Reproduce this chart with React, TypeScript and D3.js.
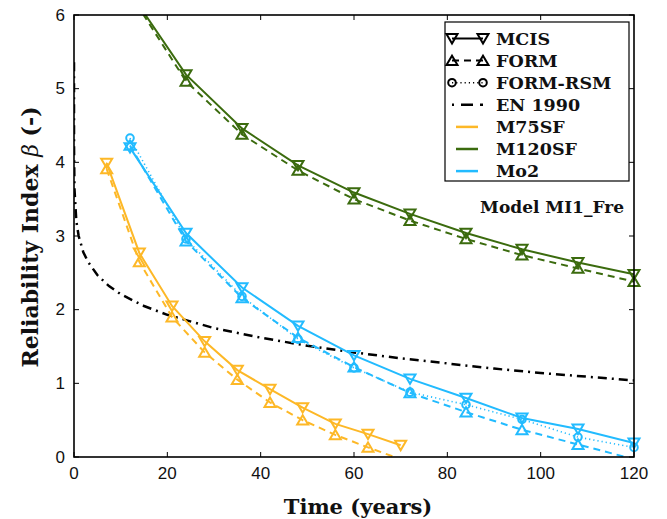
import React from "react";
import * as d3 from "d3";

// ---- data ----
const tM75 = [7, 14, 21, 28, 35, 42, 49, 56, 63, 70];
const m75MCIS = [3.99, 2.77, 2.05, 1.57, 1.18, 0.92, 0.67, 0.45, 0.31, 0.16];
const m75FORM = [3.91, 2.65, 1.9, 1.42, 1.05, 0.74, 0.5, 0.3, 0.13, -0.03];

const tM120 = [12, 24, 36, 48, 60, 72, 84, 96, 108, 120];
const m120MCIS = [6.31, 5.19, 4.46, 3.96, 3.59, 3.3, 3.04, 2.82, 2.64, 2.48];
const m120FORM = [6.29, 5.1, 4.38, 3.89, 3.5, 3.21, 2.96, 2.74, 2.56, 2.38];

const tMo2 = [12, 24, 36, 48, 60, 72, 84, 96, 108, 120];
const mo2MCIS = [4.2, 3.04, 2.3, 1.78, 1.38, 1.06, 0.8, 0.53, 0.38, 0.19];
const mo2FORM = [4.23, 2.93, 2.16, 1.62, 1.22, 0.87, 0.61, 0.37, 0.17, -0.03];
const mo2RSM = [4.33, 2.96, 2.18, 1.6, 1.21, 0.88, 0.71, 0.51, 0.27, 0.13];

const tEN = [0.00003, 0.0001, 0.001, 0.01, 0.1, 0.5, 1, 2, 3, 5, 7.5, 10, 15, 20, 30, 40, 50, 60, 70, 80, 90, 100, 110, 120];
const enBeta = [5.36, 5.14, 4.69, 4.2, 3.64, 3.2, 3.0, 2.78, 2.65, 2.47, 2.32, 2.21, 2.05, 1.93, 1.75, 1.62, 1.51, 1.42, 1.34, 1.27, 1.2, 1.14, 1.09, 1.04];

const xTicks = [0, 20, 40, 60, 80, 100, 120];
const yTicks = [0, 1, 2, 3, 4, 5, 6];

const ORANGE = "#FDB827";
const GREEN = "#3B6B0E";
const CYAN = "#22BBFF";

const methodLegend = [
  { label: "MCIS", kind: "mcis" },
  { label: "FORM", kind: "form" },
  { label: "FORM-RSM", kind: "rsm" },
  { label: "EN 1990", kind: "en" },
];
const modelLegend = [
  { label: "M75SF", color: ORANGE },
  { label: "M120SF", color: GREEN },
  { label: "Mo2", color: CYAN },
];

// ---- layout ----
const W = 667, H = 519;
const L = 74, R = 634, T = 15, B = 457;
const x = d3.scaleLinear().domain([0, 120]).range([L, R]);
const y = d3.scaleLinear().domain([0, 6]).range([B, T]);

const STYLE: Record<string, { dash: string; width: number }> = {
  mcis: { dash: "", width: 2 },
  form: { dash: "7,5", width: 2 },
  rsm: { dash: "1.2,3", width: 1.6 },
  en: { dash: "9,5,2,5", width: 2.5 },
};

function Marker({ kind, cx, cy, color }: { kind: string; cx: number; cy: number; color: string }) {
  const s = 5.5;
  if (kind === "mcis") {
    const p = `M${cx - s},${cy - s * 0.8}L${cx + s},${cy - s * 0.8}L${cx},${cy + s * 0.9}Z`;
    return <path d={p} fill="none" stroke={color} strokeWidth={2} />;
  }
  if (kind === "form") {
    const p = `M${cx - s},${cy + s * 0.8}L${cx + s},${cy + s * 0.8}L${cx},${cy - s * 0.9}Z`;
    return <path d={p} fill="none" stroke={color} strokeWidth={2} />;
  }
  if (kind === "rsm") {
    return <circle cx={cx} cy={cy} r={3.8} fill="none" stroke={color} strokeWidth={2} />;
  }
  return null;
}

function Series({ ts, vs, kind, color }: { ts: number[]; vs: number[]; kind: string; color: string }) {
  const pts: [number, number][] = ts.map((t, i) => [t, vs[i]]);
  const line = d3.line<[number, number]>().x((d) => x(d[0])).y((d) => y(d[1]));
  const st = STYLE[kind];
  return (
    <g>
      <path d={line(pts) || ""} fill="none" stroke={color} strokeWidth={st.width} strokeDasharray={st.dash} clipPath="url(#plotclip)" />
      {pts
        .filter((d) => d[1] >= 0 && d[1] <= 6)
        .map((d, i) => (
          <Marker key={i} kind={kind} cx={x(d[0])} cy={y(d[1])} color={color} />
        ))}
    </g>
  );
}

export default function App() {
  const serif = "'DejaVu Serif', serif";
  const sans = "'Liberation Sans', Arial, sans-serif";
  const legX = 445, legY = 22, legW = 184, legH = 159;
  const rowY = (i: number) => 38.5 + i * 22.1;
  return (
    <svg width={W} height={H} style={{ display: "block", position: "absolute", left: 0, top: 0, background: "#fff" }}>
      <defs>
        <clipPath id="plotclip">
          <rect x={L} y={T} width={R - L} height={B - T} />
        </clipPath>
      </defs>
      <rect x={0} y={0} width={W} height={H} fill="#fff" />

      {/* series */}
      <Series ts={tEN} vs={enBeta} kind="en" color="#000" />
      <Series ts={tM75} vs={m75FORM} kind="form" color={ORANGE} />
      <Series ts={tM75} vs={m75MCIS} kind="mcis" color={ORANGE} />
      <Series ts={tM120} vs={m120FORM} kind="form" color={GREEN} />
      <Series ts={tM120} vs={m120MCIS} kind="mcis" color={GREEN} />
      <Series ts={tMo2} vs={mo2RSM} kind="rsm" color={CYAN} />
      <Series ts={tMo2} vs={mo2FORM} kind="form" color={CYAN} />
      <Series ts={tMo2} vs={mo2MCIS} kind="mcis" color={CYAN} />

      {/* frame and ticks */}
      <rect x={L} y={T} width={R - L} height={B - T} fill="none" stroke="#000" strokeWidth={1.6} />
      {xTicks.map((t) => (
        <g key={"x" + t}>
          <line x1={x(t)} x2={x(t)} y1={B} y2={B - 5} stroke="#000" strokeWidth={1} />
          <line x1={x(t)} x2={x(t)} y1={T} y2={T + 5} stroke="#000" strokeWidth={1} />
          <text x={x(t)} y={473} textAnchor="middle" dominantBaseline="central" fontFamily={sans} fontSize={17} fill="#111">
            {t}
          </text>
        </g>
      ))}
      {yTicks.map((t) => (
        <g key={"y" + t}>
          <line x1={L} x2={L + 5} y1={y(t)} y2={y(t)} stroke="#000" strokeWidth={1} />
          <line x1={R} x2={R - 5} y1={y(t)} y2={y(t)} stroke="#000" strokeWidth={1} />
          <text x={65} y={y(t)} textAnchor="end" dominantBaseline="central" fontFamily={sans} fontSize={17} fill="#111">
            {t}
          </text>
        </g>
      ))}

      {/* axis titles */}
      <text x={358} y={506} textAnchor="middle" dominantBaseline="central" fontFamily={serif} fontWeight="bold" fontSize={21} fill="#111">
        Time (years)
      </text>
      <text transform={`translate(30,237) rotate(-90)`} textAnchor="middle" dominantBaseline="central" fontFamily={serif} fontWeight="bold" fontSize={22} fill="#111">
        Reliability Index <tspan fontStyle="italic" fontWeight="normal">β</tspan> (-)
      </text>

      {/* legend */}
      <rect x={legX} y={legY} width={legW} height={legH} fill="#fff" stroke="#000" strokeWidth={1.2} />
      {methodLegend.map((m, i) => (
        <g key={m.label}>
          <line x1={452} x2={483} y1={rowY(i)} y2={rowY(i)} stroke="#000" strokeWidth={STYLE[m.kind].width} strokeDasharray={m.kind === "en" ? "2,7,12,7,3" : STYLE[m.kind].dash} />
          <Marker kind={m.kind} cx={452} cy={rowY(i)} color="#000" />
          <Marker kind={m.kind} cx={483} cy={rowY(i)} color="#000" />
          <text x={496} y={rowY(i)} dominantBaseline="central" fontFamily={serif} fontWeight="bold" fontSize={17.5} fill="#111">
            {m.label}
          </text>
        </g>
      ))}
      {modelLegend.map((m, i) => (
        <g key={m.label}>
          <line x1={456} x2={478} y1={rowY(i + 4)} y2={rowY(i + 4)} stroke={m.color} strokeWidth={2.5} />
          <text x={496} y={rowY(i + 4)} dominantBaseline="central" fontFamily={serif} fontWeight="bold" fontSize={17.5} fill="#111">
            {m.label}
          </text>
        </g>
      ))}

      <text x={624} y={207} textAnchor="end" dominantBaseline="central" fontFamily={serif} fontWeight="bold" fontSize={17} fill="#111">
        Model MI1_Fre
      </text>
    </svg>
  );
}
